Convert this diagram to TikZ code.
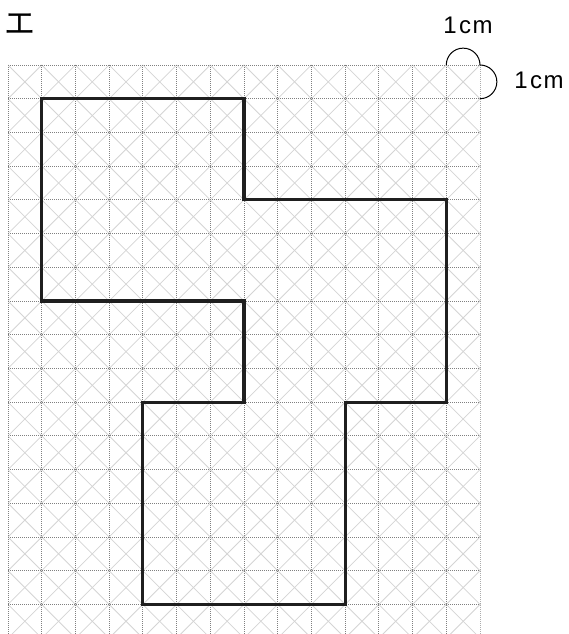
\documentclass[tikz,border=0pt]{standalone}
\usepackage{fontspec}
\setmainfont{Liberation Sans}
\newfontfamily\jpfont{Noto Sans CJK JP}
\begin{document}
\begin{tikzpicture}[x=1pt,y=-1pt,
  gridline/.style={draw=black!50,line width=0.8pt,dash pattern=on 1pt off 1pt},
  diagline/.style={draw=black!17,line width=0.8pt},
  outline/.style={draw=black!88,line width=3.2pt,line join=miter},
  arcline/.style={draw=black,line width=1pt},
  lbl/.style={font=\fontsize{24}{24}\selectfont,inner sep=0pt},
  kana/.style={font=\jpfont\fontsize{31}{31}\selectfont,inner sep=0pt}]
\path[use as bounding box] (0,0) rectangle (569,634);
\def\c{33.714}
\begin{scope}
  \clip (8,65) rectangle (480.5,634);
  \foreach \k in {-17,...,14} {
    \draw[diagline] ({8+\k*\c},65) -- ({8+(\k+17)*\c},{65+17*\c});
  }
  \foreach \k in {0,...,31} {
    \draw[diagline] ({8+\k*\c},65) -- ({8+(\k-17)*\c},{65+17*\c});
  }
  \foreach \i in {0,...,14} {
    \draw[gridline] ({8+\i*\c},65) -- ({8+\i*\c},634);
  }
  \foreach \j in {0,...,16} {
    \draw[gridline] (8,{65+\j*\c}) -- (480,{65+\j*\c});
  }
\end{scope}
\begin{scope}[shift={(8,65)},x=33.714pt,y=-33.714pt]
  \draw[outline] (1,1) -- (7,1) -- (7,4) -- (13,4) -- (13,10) -- (10,10) -- (10,16)
    -- (4,16) -- (4,10) -- (7,10) -- (7,7) -- (1,7) -- cycle;
  \coordinate (arcstart) at (13,0);
\end{scope}
\draw[arcline] (arcstart) arc (180:360:16.857) arc (270:450:16.857);
\node[lbl] (topcm) at (468,25) {1\hspace{2.5pt}c\hspace{1.5pt}m};
\node[lbl] (rightcm) at (539,80) {1\hspace{2.5pt}c\hspace{1.5pt}m};
\node[kana] (kana) at (20.5,24) {エ};
\end{tikzpicture}
\end{document}
